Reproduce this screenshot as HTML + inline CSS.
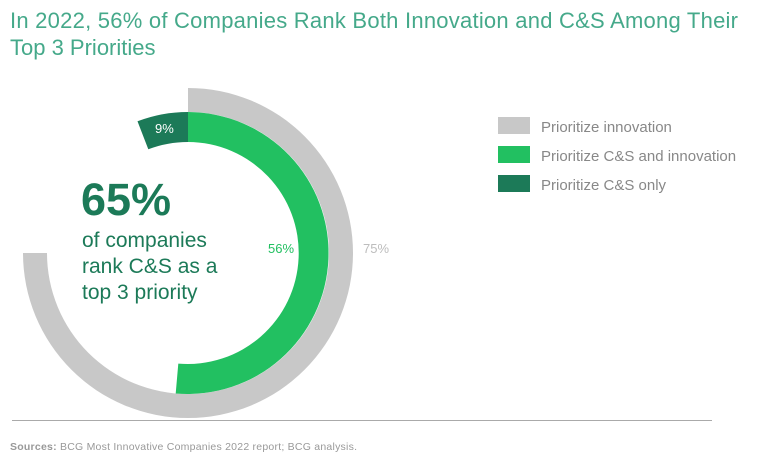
<!DOCTYPE html>
<html><head><meta charset="utf-8"><style>
body{margin:0;background:#fff;width:768px;height:465px;overflow:hidden;font-family:"Liberation Sans",sans-serif}
</style></head><body>
<svg width="768" height="465" xmlns="http://www.w3.org/2000/svg" style="position:absolute;left:0;top:0">
<text x="10" y="28" font-size="22" fill="#45a98a" font-family="Liberation Sans" textLength="728">In 2022, 56% of Companies Rank Both Innovation and C&amp;S Among Their</text>
<text x="10" y="55" font-size="22" fill="#45a98a" font-family="Liberation Sans">Top 3 Priorities</text>
<path d="M188,88 A165,165 0 1 1 23,253 L47,253 A141,141 0 1 0 188,112 Z" fill="#c8c8c8"/>
<path d="M188,112 A141,141 0 1 1 175.7,393.5 L178.3,363.6 A111,111 0 1 0 188,142 Z" fill="#22c061"/>
<path d="M137.5,121.3 A141,141 0 0 1 188,112 L188,142 A111,111 0 0 0 148.3,149.3 Z" fill="#1c7a58"/>
<text x="155" y="133" font-size="13" fill="#fff">9%</text>
<text x="268" y="253" font-size="13" fill="#22c061">56%</text>
<text x="363" y="253" font-size="13" fill="#bdbdbd">75%</text>
<text x="81" y="215" font-size="45" font-weight="bold" fill="#1c7a58">65%</text>
<text x="82" y="247" font-size="21" fill="#1c7a58">of companies</text>
<text x="82" y="273" font-size="21" fill="#1c7a58">rank C&amp;S as a</text>
<text x="82" y="299" font-size="21" fill="#1c7a58">top 3 priority</text>
<rect x="498" y="117" width="32" height="17" fill="#c8c8c8"/>
<rect x="498" y="146" width="32" height="17" fill="#22c061"/>
<rect x="498" y="175" width="32" height="17" fill="#1c7a58"/>
<text x="541" y="132" font-size="15" fill="#888">Prioritize innovation</text>
<text x="541" y="161" font-size="15" fill="#888">Prioritize C&amp;S and innovation</text>
<text x="541" y="190" font-size="15" fill="#888">Prioritize C&amp;S only</text>
<line x1="12" y1="420.5" x2="712" y2="420.5" stroke="#aaa" stroke-width="1"/>
<text x="10" y="450" font-size="10.5" fill="#999" textLength="347"><tspan font-weight="bold">Sources:</tspan> BCG Most Innovative Companies 2022 report; BCG analysis.</text>
</svg>
</body></html>
